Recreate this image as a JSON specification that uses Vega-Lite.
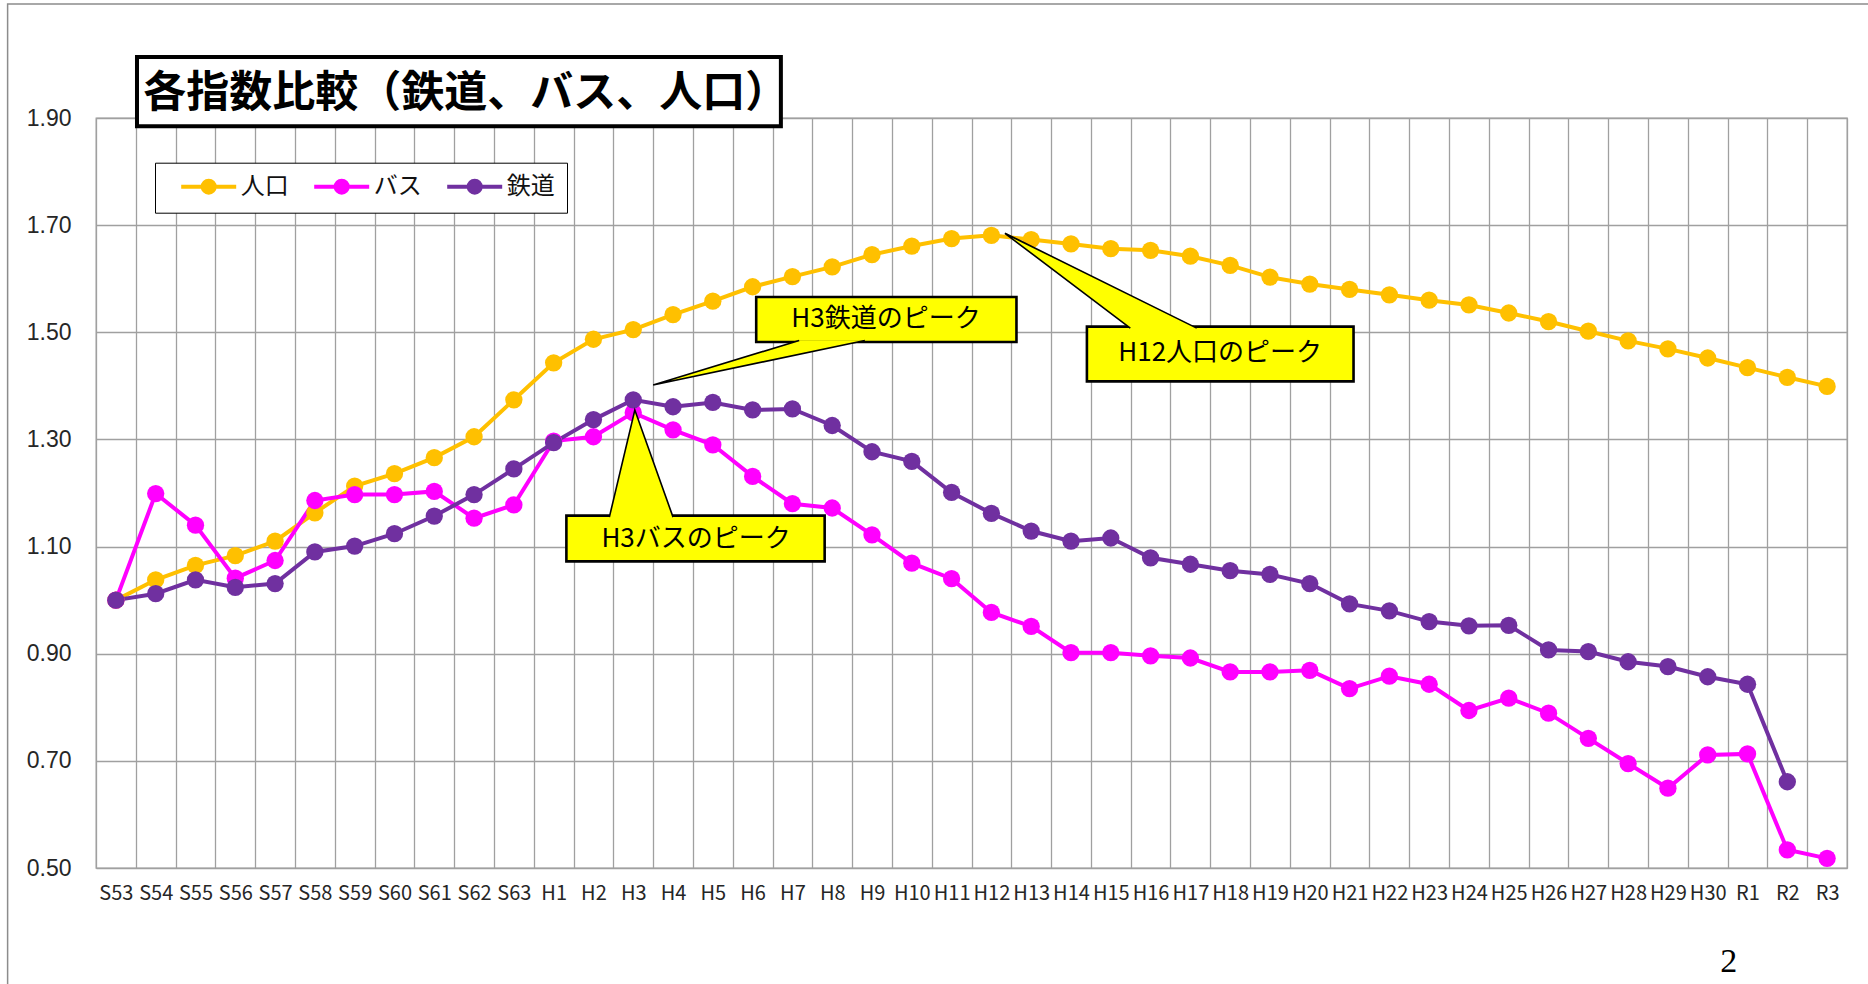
{
  "$schema": "https://vega.github.io/schema/vega-lite/v6.json",
  "width": 1751,
  "height": 750,
  "autosize": {"type": "none"},
  "padding": {"left": 96, "top": 118, "right": 21, "bottom": 116},
  "background": "#ffffff",
  "config": {"view": {"stroke": "#A0A0A0", "strokeWidth": 1.3}},
  "datasets": {
    "series": [
      {"year": "S53", "series": "人口", "value": 1.000},
      {"year": "S54", "series": "人口", "value": 1.038},
      {"year": "S55", "series": "人口", "value": 1.065},
      {"year": "S56", "series": "人口", "value": 1.083},
      {"year": "S57", "series": "人口", "value": 1.110},
      {"year": "S58", "series": "人口", "value": 1.163},
      {"year": "S59", "series": "人口", "value": 1.213},
      {"year": "S60", "series": "人口", "value": 1.236},
      {"year": "S61", "series": "人口", "value": 1.266},
      {"year": "S62", "series": "人口", "value": 1.305},
      {"year": "S63", "series": "人口", "value": 1.374},
      {"year": "H1", "series": "人口", "value": 1.443},
      {"year": "H2", "series": "人口", "value": 1.487},
      {"year": "H3", "series": "人口", "value": 1.505},
      {"year": "H4", "series": "人口", "value": 1.533},
      {"year": "H5", "series": "人口", "value": 1.558},
      {"year": "H6", "series": "人口", "value": 1.585},
      {"year": "H7", "series": "人口", "value": 1.604},
      {"year": "H8", "series": "人口", "value": 1.622},
      {"year": "H9", "series": "人口", "value": 1.645},
      {"year": "H10", "series": "人口", "value": 1.661},
      {"year": "H11", "series": "人口", "value": 1.675},
      {"year": "H12", "series": "人口", "value": 1.681},
      {"year": "H13", "series": "人口", "value": 1.673},
      {"year": "H14", "series": "人口", "value": 1.665},
      {"year": "H15", "series": "人口", "value": 1.656},
      {"year": "H16", "series": "人口", "value": 1.653},
      {"year": "H17", "series": "人口", "value": 1.642},
      {"year": "H18", "series": "人口", "value": 1.625},
      {"year": "H19", "series": "人口", "value": 1.603},
      {"year": "H20", "series": "人口", "value": 1.590},
      {"year": "H21", "series": "人口", "value": 1.580},
      {"year": "H22", "series": "人口", "value": 1.570},
      {"year": "H23", "series": "人口", "value": 1.560},
      {"year": "H24", "series": "人口", "value": 1.551},
      {"year": "H25", "series": "人口", "value": 1.536},
      {"year": "H26", "series": "人口", "value": 1.520},
      {"year": "H27", "series": "人口", "value": 1.502},
      {"year": "H28", "series": "人口", "value": 1.484},
      {"year": "H29", "series": "人口", "value": 1.469},
      {"year": "H30", "series": "人口", "value": 1.452},
      {"year": "R1", "series": "人口", "value": 1.434},
      {"year": "R2", "series": "人口", "value": 1.416},
      {"year": "R3", "series": "人口", "value": 1.399},
      {"year": "S53", "series": "バス", "value": 1.000},
      {"year": "S54", "series": "バス", "value": 1.199},
      {"year": "S55", "series": "バス", "value": 1.140},
      {"year": "S56", "series": "バス", "value": 1.041},
      {"year": "S57", "series": "バス", "value": 1.074},
      {"year": "S58", "series": "バス", "value": 1.186},
      {"year": "S59", "series": "バス", "value": 1.197},
      {"year": "S60", "series": "バス", "value": 1.197},
      {"year": "S61", "series": "バス", "value": 1.203},
      {"year": "S62", "series": "バス", "value": 1.153},
      {"year": "S63", "series": "バス", "value": 1.178},
      {"year": "H1", "series": "バス", "value": 1.297},
      {"year": "H2", "series": "バス", "value": 1.305},
      {"year": "H3", "series": "バス", "value": 1.350},
      {"year": "H4", "series": "バス", "value": 1.318},
      {"year": "H5", "series": "バス", "value": 1.290},
      {"year": "H6", "series": "バス", "value": 1.231},
      {"year": "H7", "series": "バス", "value": 1.180},
      {"year": "H8", "series": "バス", "value": 1.172},
      {"year": "H9", "series": "バス", "value": 1.122},
      {"year": "H10", "series": "バス", "value": 1.069},
      {"year": "H11", "series": "バス", "value": 1.040},
      {"year": "H12", "series": "バス", "value": 0.977},
      {"year": "H13", "series": "バス", "value": 0.951},
      {"year": "H14", "series": "バス", "value": 0.902},
      {"year": "H15", "series": "バス", "value": 0.902},
      {"year": "H16", "series": "バス", "value": 0.896},
      {"year": "H17", "series": "バス", "value": 0.892},
      {"year": "H18", "series": "バス", "value": 0.866},
      {"year": "H19", "series": "バス", "value": 0.866},
      {"year": "H20", "series": "バス", "value": 0.869},
      {"year": "H21", "series": "バス", "value": 0.835},
      {"year": "H22", "series": "バス", "value": 0.858},
      {"year": "H23", "series": "バス", "value": 0.843},
      {"year": "H24", "series": "バス", "value": 0.794},
      {"year": "H25", "series": "バス", "value": 0.817},
      {"year": "H26", "series": "バス", "value": 0.789},
      {"year": "H27", "series": "バス", "value": 0.742},
      {"year": "H28", "series": "バス", "value": 0.695},
      {"year": "H29", "series": "バス", "value": 0.649},
      {"year": "H30", "series": "バス", "value": 0.711},
      {"year": "R1", "series": "バス", "value": 0.713},
      {"year": "R2", "series": "バス", "value": 0.534},
      {"year": "R3", "series": "バス", "value": 0.518},
      {"year": "S53", "series": "鉄道", "value": 1.000},
      {"year": "S54", "series": "鉄道", "value": 1.012},
      {"year": "S55", "series": "鉄道", "value": 1.038},
      {"year": "S56", "series": "鉄道", "value": 1.024},
      {"year": "S57", "series": "鉄道", "value": 1.031},
      {"year": "S58", "series": "鉄道", "value": 1.090},
      {"year": "S59", "series": "鉄道", "value": 1.101},
      {"year": "S60", "series": "鉄道", "value": 1.124},
      {"year": "S61", "series": "鉄道", "value": 1.157},
      {"year": "S62", "series": "鉄道", "value": 1.197},
      {"year": "S63", "series": "鉄道", "value": 1.245},
      {"year": "H1", "series": "鉄道", "value": 1.294},
      {"year": "H2", "series": "鉄道", "value": 1.337},
      {"year": "H3", "series": "鉄道", "value": 1.374},
      {"year": "H4", "series": "鉄道", "value": 1.361},
      {"year": "H5", "series": "鉄道", "value": 1.369},
      {"year": "H6", "series": "鉄道", "value": 1.355},
      {"year": "H7", "series": "鉄道", "value": 1.357},
      {"year": "H8", "series": "鉄道", "value": 1.326},
      {"year": "H9", "series": "鉄道", "value": 1.277},
      {"year": "H10", "series": "鉄道", "value": 1.259},
      {"year": "H11", "series": "鉄道", "value": 1.201},
      {"year": "H12", "series": "鉄道", "value": 1.162},
      {"year": "H13", "series": "鉄道", "value": 1.129},
      {"year": "H14", "series": "鉄道", "value": 1.110},
      {"year": "H15", "series": "鉄道", "value": 1.116},
      {"year": "H16", "series": "鉄道", "value": 1.079},
      {"year": "H17", "series": "鉄道", "value": 1.067},
      {"year": "H18", "series": "鉄道", "value": 1.055},
      {"year": "H19", "series": "鉄道", "value": 1.048},
      {"year": "H20", "series": "鉄道", "value": 1.031},
      {"year": "H21", "series": "鉄道", "value": 0.993},
      {"year": "H22", "series": "鉄道", "value": 0.980},
      {"year": "H23", "series": "鉄道", "value": 0.960},
      {"year": "H24", "series": "鉄道", "value": 0.952},
      {"year": "H25", "series": "鉄道", "value": 0.953},
      {"year": "H26", "series": "鉄道", "value": 0.907},
      {"year": "H27", "series": "鉄道", "value": 0.904},
      {"year": "H28", "series": "鉄道", "value": 0.885},
      {"year": "H29", "series": "鉄道", "value": 0.876},
      {"year": "H30", "series": "鉄道", "value": 0.857},
      {"year": "R1", "series": "鉄道", "value": 0.843},
      {"year": "R2", "series": "鉄道", "value": 0.661}
    ],
    "frame": [
      {"x1": -2.221, "x2": 50, "y1": 2.1128, "y2": 0.2}
    ],
    "titlebox": [
      {"x1": 1.030, "x2": 17.21, "y1": 2.0139, "y2": 1.8845}
    ],
    "titletext": [
      {"text": "各指数比較（鉄道、バス、人口）", "x": 9.29, "y": 1.944}
    ],
    "callouts": [
      {"id": "rail", "x1": 16.59, "x2": 23.13, "y1": 1.5659, "y2": 1.4819},
      {"id": "pop", "x1": 24.90, "x2": 31.60, "y1": 1.5106, "y2": 1.4083},
      {"id": "bus", "x1": 11.82, "x2": 18.31, "y1": 1.1578, "y2": 1.0723}
    ],
    "pointers": [
      {"id": "rail", "k": 0, "x": 17.67, "y": 1.4847},
      {"id": "rail", "k": 1, "x": 14.00, "y": 1.4016},
      {"id": "rail", "k": 2, "x": 19.32, "y": 1.4847},
      {"id": "pop", "k": 0, "x": 25.99, "y": 1.5078},
      {"id": "pop", "k": 1, "x": 22.84, "y": 1.6848},
      {"id": "pop", "k": 2, "x": 27.66, "y": 1.5078},
      {"id": "bus", "k": 0, "x": 12.90, "y": 1.1550},
      {"id": "bus", "k": 1, "x": 13.54, "y": 1.3549},
      {"id": "bus", "k": 2, "x": 14.50, "y": 1.1550}
    ],
    "labels": [
      {"text": "H3鉄道のピーク", "x": 19.85, "y": 1.5239},
      {"text": "H12人口のピーク", "x": 28.25, "y": 1.4610},
      {"text": "H3バスのピーク", "x": 15.08, "y": 1.1141}
    ],
    "page": [
      {"text": "2", "x": 41.03, "y": 0.3254}
    ]
  },
  "resolve": {"scale": {"x": "independent", "y": "independent"}},
  "layer": [
    {
      "data": {"name": "series"},
      "mark": {"type": "line", "strokeWidth": 4, "point": {"filled": true, "size": 300}},
      "encoding": {
        "x": {
          "field": "year", "type": "ordinal", "sort": null, "bandPosition": 0.5,
          "scale": {"type": "band", "paddingInner": 0, "paddingOuter": 0},
          "axis": {
            "title": null, "tickBand": "extent", "grid": true, "gridColor": "#A0A0A0", "gridWidth": 1.3,
            "ticks": false, "domain": false, "labelAngle": 0,
            "labelFont": "Noto Sans CJK JP",
            "labelFontSize": 20, "labelColor": "#262626", "labelPadding": 15
          }
        },
        "y": {
          "field": "value", "type": "quantitative",
          "scale": {"domain": [0.5, 1.9], "nice": false, "zero": false},
          "axis": {
            "title": null, "values": [0.5, 0.7, 0.9, 1.1, 1.3, 1.5, 1.7, 1.9], "format": ".2f",
            "grid": true, "gridColor": "#A0A0A0", "gridWidth": 1.3, "ticks": false, "domain": false,
            "labelFont": "Liberation Sans", "labelFontSize": 23, "labelColor": "#262626", "labelPadding": 25
          }
        },
        "color": {
          "field": "series", "type": "nominal",
          "scale": {"domain": ["人口", "バス", "鉄道"], "range": ["#FFC000", "#FF00FF", "#7030A0"]},
          "legend": {
            "orient": "none", "legendX": 59, "legendY": 44.7, "direction": "horizontal", "title": null,
            "symbolType": "M-2.75,0L2.75,0M-0.6,0A0.6,0.6,0,1,1,0.6,0A0.6,0.6,0,1,1,-0.6,0M-0.25,0A0.25,0.25,0,1,1,0.25,0A0.25,0.25,0,1,1,-0.25,0",
            "symbolSize": 400, "symbolStrokeWidth": 4, "symbolOffset": 29.7, "symbolOpacity": 1,
            "labelOffset": 20, "columnPadding": 11, "padding": 12,
            "strokeColor": "#000000", "fillColor": "#ffffff",
            "labelFont": "Noto Sans CJK JP", "labelFontSize": 24, "labelColor": "#111111",
            "zindex": 1
          }
        }
      }
    },
    {
      "data": {"name": "frame"},
      "mark": {"type": "rect", "fillOpacity": 0, "stroke": "#8C8C8C", "strokeWidth": 1.5, "clip": false},
      "encoding": {
        "x": {"field": "x1", "type": "quantitative", "scale": {"domain": [0, 44], "nice": false, "zero": false}, "axis": null},
        "x2": {"field": "x2"},
        "y": {"field": "y1", "type": "quantitative", "scale": {"domain": [0.5, 1.9], "nice": false, "zero": false}, "axis": null},
        "y2": {"field": "y2"}
      }
    },
    {
      "data": {"name": "titlebox"},
      "mark": {"type": "rect", "fill": "#ffffff", "stroke": "#000000", "strokeWidth": 4, "clip": false},
      "encoding": {
        "x": {"field": "x1", "type": "quantitative", "scale": {"domain": [0, 44], "nice": false, "zero": false}, "axis": null},
        "x2": {"field": "x2"},
        "y": {"field": "y1", "type": "quantitative", "scale": {"domain": [0.5, 1.9], "nice": false, "zero": false}, "axis": null},
        "y2": {"field": "y2"}
      }
    },
    {
      "data": {"name": "titletext"},
      "mark": {"type": "text", "font": "Noto Sans CJK JP", "fontSize": 43, "fontWeight": "bold", "color": "#000000", "align": "center", "baseline": "middle", "clip": false},
      "encoding": {
        "x": {"field": "x", "type": "quantitative", "scale": {"domain": [0, 44], "nice": false, "zero": false}, "axis": null},
        "y": {"field": "y", "type": "quantitative", "scale": {"domain": [0.5, 1.9], "nice": false, "zero": false}, "axis": null},
        "text": {"field": "text"}
      }
    },
    {
      "data": {"name": "callouts"},
      "mark": {"type": "rect", "fill": "#FFFF00", "stroke": "#000000", "strokeWidth": 2.6, "clip": false},
      "encoding": {
        "x": {"field": "x1", "type": "quantitative", "scale": {"domain": [0, 44], "nice": false, "zero": false}, "axis": null},
        "x2": {"field": "x2"},
        "y": {"field": "y1", "type": "quantitative", "scale": {"domain": [0.5, 1.9], "nice": false, "zero": false}, "axis": null},
        "y2": {"field": "y2"}
      }
    },
    {
      "data": {"name": "pointers"},
      "mark": {"type": "line", "fill": "#FFFF00", "stroke": "#000000", "strokeWidth": 1.6, "strokeJoin": "miter", "clip": false},
      "encoding": {
        "x": {"field": "x", "type": "quantitative", "scale": {"domain": [0, 44], "nice": false, "zero": false}, "axis": null},
        "y": {"field": "y", "type": "quantitative", "scale": {"domain": [0.5, 1.9], "nice": false, "zero": false}, "axis": null},
        "detail": {"field": "id"},
        "order": {"field": "k"}
      }
    },
    {
      "data": {"name": "labels"},
      "mark": {"type": "text", "font": "Noto Sans CJK JP", "fontSize": 26, "color": "#000000", "align": "center", "baseline": "middle"},
      "encoding": {
        "x": {"field": "x", "type": "quantitative", "scale": {"domain": [0, 44], "nice": false, "zero": false}, "axis": null},
        "y": {"field": "y", "type": "quantitative", "scale": {"domain": [0.5, 1.9], "nice": false, "zero": false}, "axis": null},
        "text": {"field": "text"}
      }
    },
    {
      "data": {"name": "page"},
      "mark": {"type": "text", "font": "Liberation Serif", "fontSize": 34, "color": "#000000", "align": "center", "baseline": "middle", "clip": false},
      "encoding": {
        "x": {"field": "x", "type": "quantitative", "scale": {"domain": [0, 44], "nice": false, "zero": false}, "axis": null},
        "y": {"field": "y", "type": "quantitative", "scale": {"domain": [0.5, 1.9], "nice": false, "zero": false}, "axis": null},
        "text": {"field": "text"}
      }
    }
  ]
}
